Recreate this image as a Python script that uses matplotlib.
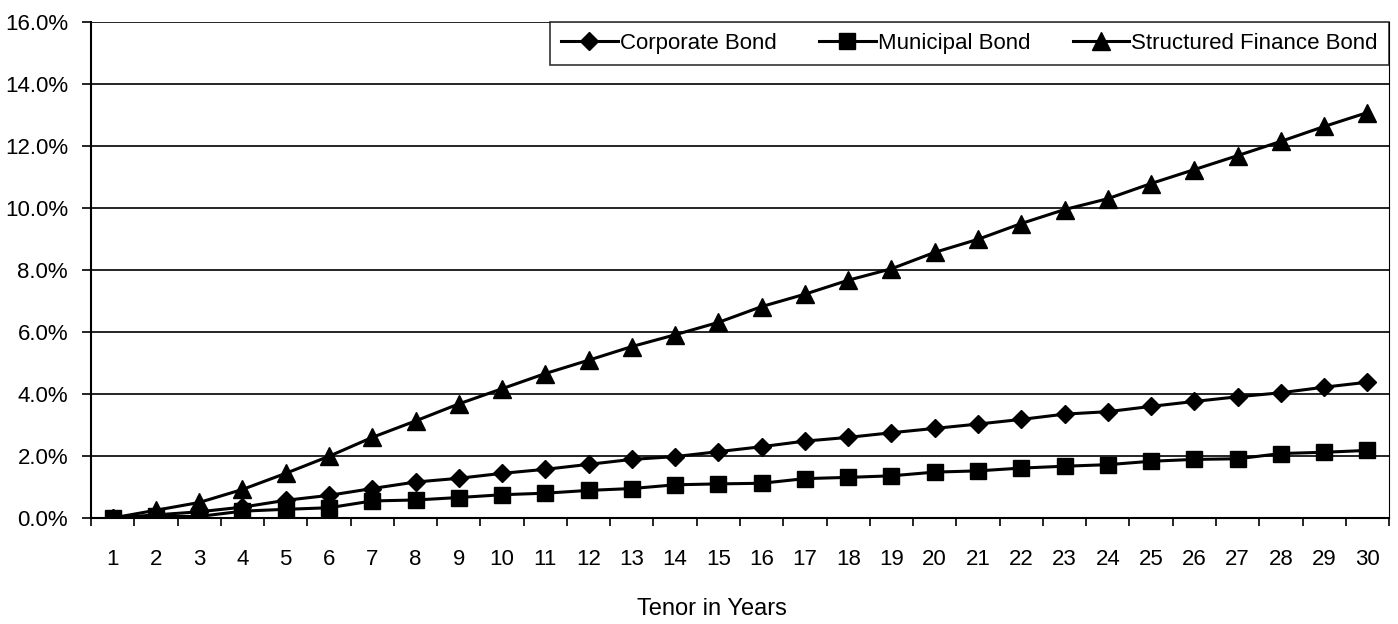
import matplotlib
matplotlib.use('Agg')
import matplotlib.pyplot as plt
from matplotlib.ticker import FixedLocator, FuncFormatter

plt.rcParams['font.family'] = ['Liberation Sans', 'DejaVu Sans']

tenor = list(range(1, 31))

# cumulative default rates, in percent
corporate = [0.0, 0.10, 0.20, 0.35, 0.57, 0.73, 0.95, 1.16, 1.28, 1.44,
             1.57, 1.73, 1.89, 1.98, 2.14, 2.30, 2.48, 2.60, 2.75, 2.89,
             3.03, 3.18, 3.35, 3.43, 3.60, 3.76, 3.91, 4.04, 4.22, 4.38]
municipal = [0.0, 0.05, 0.05, 0.22, 0.28, 0.33, 0.55, 0.58, 0.66, 0.75,
             0.80, 0.89, 0.95, 1.07, 1.10, 1.12, 1.27, 1.31, 1.36, 1.48,
             1.52, 1.61, 1.67, 1.72, 1.83, 1.89, 1.91, 2.08, 2.12, 2.18]
structured = [0.0, 0.25, 0.50, 0.92, 1.44, 1.99, 2.60, 3.13, 3.68, 4.17,
              4.66, 5.09, 5.53, 5.91, 6.31, 6.82, 7.22, 7.67, 8.04, 8.57,
              8.99, 9.50, 9.95, 10.30, 10.79, 11.24, 11.69, 12.15, 12.63, 13.08]

fig = plt.figure(figsize=(13.98, 6.24), dpi=100)
ax = fig.add_axes([0.0651, 0.1699, 0.9285, 0.7948])

ax.plot(tenor, corporate, color='black', lw=2.2, marker='D', ms=9.5,
        label='Corporate Bond')
ax.plot(tenor, municipal, color='black', lw=2.2, marker='s', ms=11,
        label='Municipal Bond')
ax.plot(tenor, structured, color='black', lw=2.2, marker='^', ms=12.5,
        label='Structured Finance Bond')

ax.set_xlim(0.5, 30.5)
ax.set_ylim(0, 16)

ax.set_yticks([0, 2, 4, 6, 8, 10, 12, 14, 16])
ax.yaxis.set_major_formatter(FuncFormatter(lambda v, p: f'{v:.1f}%'))
ax.yaxis.grid(True, color='black', lw=1.2)
ax.set_axisbelow(True)

# category labels in the middle, tick marks on the boundaries
ax.xaxis.set_major_locator(FixedLocator([t - 0.5 for t in tenor] + [30.5]))
ax.xaxis.set_major_formatter(FuncFormatter(lambda v, p: ''))
ax.set_xticks(tenor, [str(t) for t in tenor], minor=True)
ax.tick_params(axis='x', which='major', direction='out', length=6, width=1.2)
ax.tick_params(axis='x', which='minor', length=0, pad=22, labelsize=16)
ax.tick_params(axis='y', direction='out', length=6.5, width=1.2, pad=10,
               labelsize=16)

for side in ['left', 'bottom']:
    ax.spines[side].set_linewidth(1.5)
ax.spines['top'].set_visible(False)
ax.spines['right'].set_linewidth(0.8)

fig.text(712 / 1398, 1 - 609 / 624, 'Tenor in Years', ha='center',
         va='center', fontsize=17)

leg = ax.legend(loc='upper right', ncol=3, frameon=True, fancybox=False,
                edgecolor='black', fontsize=16, borderaxespad=0,
                handlelength=2.55, handletextpad=0.1, columnspacing=1.9,
                borderpad=0.5)
leg.get_frame().set_linewidth(1.2)

fig.savefig('out.png', dpi=100)
